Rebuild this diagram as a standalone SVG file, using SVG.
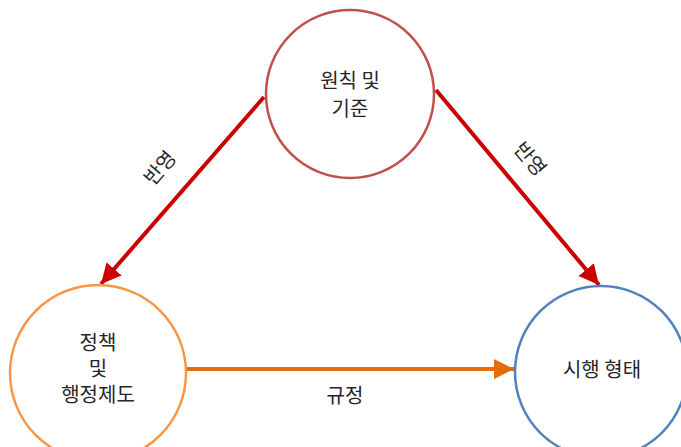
<svg xmlns="http://www.w3.org/2000/svg" width="681" height="447" viewBox="0 0 681 447">
<style>
text{font-family:"Noto Sans CJK KR","Noto Sans",sans-serif;font-size:20px;fill:#262626;text-anchor:middle}
.node{fill:#fff;stroke-width:2.5}
.red{stroke:#cc0000;stroke-width:4;fill:none}
.org{stroke:#e46c0a;stroke-width:4;fill:none}
</style>
<defs>
<marker id="ahr" markerWidth="6" markerHeight="6" refX="5" refY="3" orient="auto" markerUnits="strokeWidth"><path d="M0,0.5 L5,3 L0,5.5 Z" fill="#cc0000"/></marker>
<marker id="aho" markerWidth="6" markerHeight="6" refX="5" refY="3" orient="auto" markerUnits="strokeWidth"><path d="M0,0.5 L5,3 L0,5.5 Z" fill="#e46c0a"/></marker>
</defs>
<rect width="681" height="447" fill="#fff"/>
<g id="connectors">
<line class="red" x1="264" y1="97" x2="101" y2="284" marker-end="url(#ahr)"/>
<line class="red" x1="436" y1="90" x2="599" y2="285" marker-end="url(#ahr)"/>
<line class="org" x1="186" y1="369" x2="514" y2="369" marker-end="url(#aho)"/>
<text transform="translate(160,168) rotate(-49)" dy="7">반영</text>
<text transform="translate(530,159) rotate(50)" dy="7">반영</text>
<text x="345" y="403">규정</text>
</g>
<g id="node-top">
<circle class="node" cx="350" cy="94" r="84" stroke="#c0504d"/>
<text x="350" y="88">원칙 및</text>
<text x="350" y="116">기준</text>
</g>
<g id="node-left">
<circle class="node" cx="98" cy="373" r="88" stroke="#f79646"/>
<text x="98" y="350">정책</text>
<text x="98" y="376">및</text>
<text x="98" y="402">행정제도</text>
</g>
<g id="node-right">
<circle class="node" cx="601" cy="372" r="86" stroke="#4f81bd"/>
<text x="602" y="377">시행 형태</text>
</g>
</svg>
